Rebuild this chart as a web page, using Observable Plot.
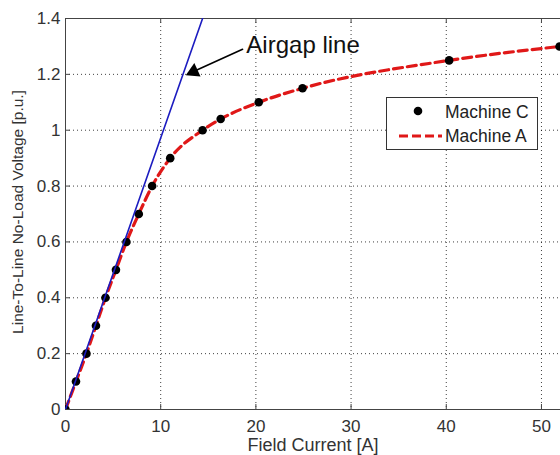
<!DOCTYPE html>
<html>
<head>
<meta charset="utf-8">
<script src="https://cdn.jsdelivr.net/npm/d3@7"></script>
<script src="https://cdn.jsdelivr.net/npm/@observablehq/plot@0.6"></script>
<style>
  html, body { margin: 0; padding: 0; background: #fff; }
  #wrap { position: relative; width: 560px; height: 455px; font-family: "Liberation Sans", Arial, sans-serif; }
  #legend { position: absolute; left: 386px; top: 97px; }
</style>
</head>
<body>
<div id="wrap">
  <div id="chart"></div>
  <div id="legend">
    <svg width="153" height="54" font-family="Liberation Sans, Arial, sans-serif" font-size="17.5">
      <rect x="0.5" y="0.5" width="151" height="52" fill="#fff" stroke="#333" stroke-width="1"/>
      <circle cx="32" cy="14" r="4.3" fill="#000"/>
      <text x="59" y="20.5" fill="#222">Machine C</text>
      <line x1="13" y1="39" x2="56" y2="39" stroke="#e01818" stroke-width="3.2" stroke-dasharray="9,4"/>
      <text x="59" y="45" fill="#222">Machine A</text>
    </svg>
  </div>
</div>
<script>
// Machine C measured points (field current [A], voltage [p.u.])
const fieldCurrent = [0, 1.1, 2.2, 3.2, 4.2, 5.3, 6.4, 7.7, 9.1, 11.0, 14.4, 16.3, 20.3, 24.9, 40.3, 51.9];
const voltage      = [0, 0.1, 0.2, 0.3, 0.4, 0.5, 0.6, 0.7, 0.8, 0.9, 1.0, 1.04, 1.1, 1.15, 1.25, 1.3];
// Machine A curve
const machineACurrent = [0, 1.1, 2.2, 3.2, 4.2, 5.3, 6.4, 7.7, 9.1, 11.0, 14.4, 16.3, 20.3, 24.9, 40.3, 52.5];
const machineAVoltage = [0, 0.1, 0.2, 0.3, 0.4, 0.5, 0.6, 0.7, 0.8, 0.9, 1.0, 1.04, 1.1, 1.15, 1.25, 1.302];
// Airgap line
const airgapCurrent = [0, 14.4];
const airgapVoltage = [0, 1.4];
// Annotation
const annotText = ["Airgap line"];
const annotTextPos = [19.0, 1.303];
const arrowStart = [18.6, 1.29];
const arrowHead = [13.45, 1.21];
const arrowTip = [12.6, 1.196];
// Ticks
const xTicks = [0, 10, 20, 30, 40, 50];
const yTicks = [0, 0.2, 0.4, 0.6, 0.8, 1, 1.2, 1.4];

const pts = fieldCurrent.map((x, i) => ({x, y: voltage[i]}));
const machA = machineACurrent.map((x, i) => ({x, y: machineAVoltage[i]}));
const air = airgapCurrent.map((x, i) => ({x, y: airgapVoltage[i]}));

const axisColor = "#444";
const angle = Math.atan2(-(arrowTip[1]-arrowStart[1])*279.3, (arrowTip[0]-arrowStart[0])*9.52) * 180 / Math.PI;

const chart = Plot.plot({
  width: 560,
  height: 455,
  marginLeft: 65,
  marginRight: 0,
  marginTop: 18,
  marginBottom: 46,
  style: {fontFamily: "Liberation Sans, Arial, sans-serif", fontSize: "17px", color: "#333", background: "#fff"},
  x: {domain: [0, 52]},
  y: {domain: [0, 1.4]},
  marks: [
    Plot.ruleX(xTicks.filter(d => d > 0), {stroke: "#000", strokeOpacity: 0.75, strokeDasharray: "1,3"}),
    Plot.ruleY(yTicks.filter(d => d > 0 && d < 1.4), {stroke: "#000", strokeOpacity: 0.75, strokeDasharray: "1,3"}),
    // inward ticks
    Plot.ruleX(xTicks, {y1: 0, y2: 0.018, stroke: axisColor}),
    Plot.ruleX(xTicks, {y1: 1.4 - 0.018, y2: 1.4, stroke: axisColor}),
    Plot.ruleY(yTicks, {x1: 0, x2: 0.5, stroke: axisColor}),
    // axes
    Plot.axisX({ticks: xTicks, tickSize: 0, tickPadding: 10, tickFormat: d => String(d), label: null, fontSize: 17, fill: "#333"}),
    Plot.axisY({ticks: yTicks, tickSize: 0, tickPadding: 5, tickFormat: d => String(d), label: null, fontSize: 17, fill: "#333"}),
    Plot.ruleX([0], {stroke: axisColor}),
    Plot.ruleY([0], {stroke: axisColor}),
    Plot.ruleY([1.4], {stroke: axisColor}),
    // data
    Plot.line(machA, {x: "x", y: "y", stroke: "#e01818", strokeWidth: 3.2, strokeDasharray: "9,5", curve: "monotone-x", clip: true}),
    Plot.dot(pts, {x: "x", y: "y", r: 4.3, fill: "#000", clip: true}),
    Plot.line(air, {x: "x", y: "y", stroke: "#1c1cc0", strokeWidth: 1.6, clip: true}),
    // annotation
    Plot.line([{x: arrowStart[0], y: arrowStart[1]}, {x: arrowHead[0], y: arrowHead[1]}], {x: "x", y: "y", stroke: "#000", strokeWidth: 1.6}),
    Plot.dot([{x: arrowHead[0], y: arrowHead[1]}], {x: "x", y: "y", symbol: "triangle", r: 5.5, fill: "#000", stroke: "none", rotate: angle + 90}),
    Plot.text(annotText, {x: () => annotTextPos[0], y: () => annotTextPos[1], text: d => d, textAnchor: "start", fontSize: 24, fill: "#111"}),
    // axis labels
    Plot.text(["Field Current [A]"], {frameAnchor: "bottom", lineAnchor: "middle", textAnchor: "middle", dy: 36, fontSize: 18, fill: "#333"}),
    Plot.text(["Line-To-Line No-Load Voltage [p.u.]"], {frameAnchor: "left", lineAnchor: "middle", textAnchor: "middle", dx: -47, dy: -2, rotate: -90, fontSize: 15.5, fill: "#333"})
  ]
});
document.getElementById("chart").appendChild(chart);
</script>
</body>
</html>
